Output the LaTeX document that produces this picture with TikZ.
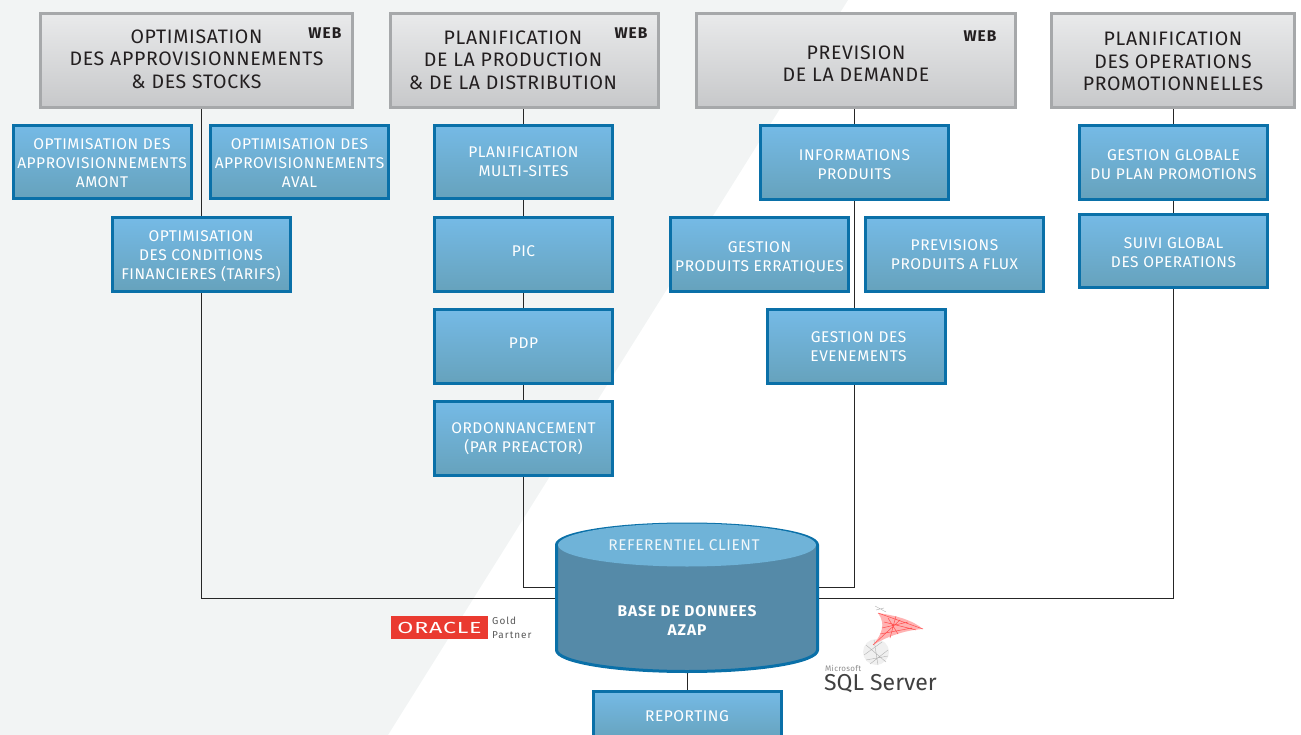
\documentclass[tikz,border=0pt]{standalone}
\usepackage{fontspec}
\setmainfont[LetterSpace=3.5]{Fira Sans}
\usetikzlibrary{backgrounds}

\definecolor{pagegrey}{HTML}{F2F4F4}
\definecolor{boxedge}{HTML}{0A70A8}
\definecolor{boxtop}{HTML}{75BAE6}
\definecolor{boxbot}{HTML}{66A2BC}
\definecolor{titleedge}{HTML}{A6A8AA}
\definecolor{titletop}{HTML}{E9EAEB}
\definecolor{titlebot}{HTML}{C7C8CA}
\definecolor{titletext}{HTML}{231F20}
\definecolor{dbbody}{HTML}{558AA8}
\definecolor{dbtop}{HTML}{6FB3D8}
\definecolor{oraclered}{HTML}{EA3A30}

% moves the lines of a box up by #1 inside its node
\newcommand{\nudge}[2]{\raisebox{0pt}[\dimexpr\height-#1\relax][\dimexpr\depth+#1\relax]{\begin{tabular}{@{}c@{}}#2\end{tabular}}}

\begin{document}
\begin{tikzpicture}[
                x=1pt,y=-1pt,
                titlebox/.style={draw=titleedge,line width=3pt,top color=titletop,bottom color=titlebot,
                    text=titletext,align=center,minimum height=94pt,minimum width=#1,
                    font=\fontsize{19.5}{22.5}\selectfont},
                bluebox/.style={draw=boxedge,line width=3pt,top color=boxtop,bottom color=boxbot,
                    text=white,align=center,minimum height=73.5pt,minimum width=#1,inner sep=0pt,
                    font=\fontsize{15.5}{19}\selectfont},
                bluebox/.default=178pt,
                webtag/.style={text=titletext,font=\fontsize{15.5}{16}\selectfont\bfseries\addfontfeature{LetterSpace=7}},
                dblabel/.style={text=white,align=center,font=\fontsize{15.5}{19}\selectfont\bfseries\addfontfeature{LetterSpace=6}},
                link/.style={draw=black!85,line width=1pt}
            ]
                \useasboundingbox (0,0) rectangle (1301,735);

                % title row
                \node [titlebox=312pt] (opti) at (196.5,60.5) {\nudge{-1pt}{OPTIMISATION\\DES APPROVISIONNEMENTS\\\& DES STOCKS}};
                \node [titlebox=268pt] (plan) at (524.5,60.5) {\nudge{-2pt}{PLANIFICATION\\DE LA PRODUCTION\\\& DE LA DISTRIBUTION}\hspace*{23pt}};
                \node [titlebox=319pt] (prev) at (856,60.5) {\nudge{-5.5pt}{PREVISION\\DE LA DEMANDE}};
                \node [titlebox=243pt] (promo) at (1173,60.5) {\nudge{-3.5pt}{PLANIFICATION\\DES OPERATIONS\\PROMOTIONNELLES}};

                \node [webtag] (webopti) at (325,33) {WEB};
                \node [webtag] (webplan) at (631,33) {WEB};
                \node [webtag] (webprev) at (980,36) {WEB};

                % first column
                \node [bluebox] (amont) at (102,162) {\nudge{-2.5pt}{OPTIMISATION DES\\APPROVISIONNEMENTS\\AMONT}};
                \node [bluebox] (aval) at (299.5,162) {\nudge{-2.5pt}{OPTIMISATION DES\\APPROVISIONNEMENTS\\AVAL}};
                \node [bluebox] (tarifs) at (201,254.5) {\nudge{-2pt}{OPTIMISATION\\DES CONDITIONS\\FINANCIERES (TARIFS)}};

                % second column
                \node [bluebox] (sites) at (523.5,162) {\nudge{-1pt}{PLANIFICATION\\MULTI-SITES}};
                \node [bluebox] (pic) at (523.5,254.5) {\nudge{2pt}{PIC}};
                \node [bluebox] (pdp) at (523.5,346.5) {\nudge{2pt}{PDP}};
                \node [bluebox] (ordo) at (523.5,438.5) {\nudge{-1pt}{ORDONNANCEMENT\\(PAR PREACTOR)}};

                % third column
                \node [bluebox=188pt] (infos) at (854.5,162.5) {\nudge{-4pt}{INFORMATIONS\\PRODUITS}};
                \node [bluebox] (errat) at (759.5,254.5) {\nudge{-4pt}{GESTION\\PRODUITS ERRATIQUES}};
                \node [bluebox] (flux) at (954.5,254.5) {\nudge{-2pt}{PREVISIONS\\PRODUITS A FLUX}};
                \node [bluebox] (even) at (856.5,346.5) {\hspace*{4pt}\nudge{-2pt}{GESTION DES\\EVENEMENTS}};

                % fourth column
                \node [bluebox=188pt] (global) at (1173.5,162.5) {\nudge{-4pt}{GESTION GLOBALE\\DU PLAN PROMOTIONS}};
                \node [bluebox=188pt] (suivi) at (1173.5,251) {\nudge{-3pt}{SUIVI GLOBAL\\DES OPERATIONS}};

                % database
                \draw [draw=boxedge,line width=3pt,fill=dbbody] (556.5,545) -- (556.5,650)
                    arc [x radius=130.5,y radius=21.5,start angle=180,end angle=0]
                    -- (817.5,545) arc [x radius=130.5,y radius=21,start angle=0,end angle=-180] -- cycle;
                \fill [dbtop] (687,545) ellipse (129 and 21.5);
                \node [minimum width=264pt,minimum height=150pt,inner sep=0pt] (db) at (687,598) {};
                \node [dblabel] (dbname) at (687,620) {BASE DE DONNEES\\AZAP};
                \node [text=white!88!dbtop,font=\fontsize{15.5}{19}\selectfont] (dbref) at (684,545) {REFERENTIEL CLIENT};
                \node [bluebox=188pt,minimum height=50pt] (report) at (687,716) {REPORTING};

                % logos
                \node [fill=oraclered,text=white,minimum width=97pt,minimum height=23pt,inner sep=0pt,
                    font=\fontsize{16}{16}\selectfont] (oracle) at (439.5,627.5) {\scalebox{1.45}[1]{ORACLE}};
                \node [text=black!65,align=left,inner sep=0pt,anchor=west,
                    font=\fontsize{10}{14}\selectfont\addfontfeature{LetterSpace=10}] (gold) at (492,627.5) {Gold\\Partner};
                \node [text=black!45,inner sep=0pt,anchor=west,font=\fontsize{8}{8}\selectfont] (micro) at (825,668) {Microsoft};
                \node [text=black!75,inner sep=0pt,anchor=west,
                    font=\fontsize{23}{24}\selectfont\addfontfeature{LetterSpace=0}] (sql) at (824,684) {SQL Server};

                \fill [black!6] (876,652) ellipse (13 and 13);
                \draw [black!30,line width=.4pt] (866,645) -- (886,662) (864,655) -- (882,642) (870,664) -- (888,650)
                    (874,640) -- (878,665) (866,660) -- (888,656) (875,606) -- (886,612) (876,610) -- (884,608);
                \fill [red!30] (878,613) .. controls (898,616) and (912,620) .. (923,629)
                    .. controls (906,630) and (888,636) .. (873,645) .. controls (882,634) and (886,624) .. cycle;
                \draw [red!70,line width=.5pt] (878,613) -- (923,629) (882,628) -- (908,622) (873,645) -- (900,620)
                    (888,618) -- (898,634) (896,616) -- (890,638) (884,622) -- (916,630) (880,634) -- (912,628);

                \begin{scope}[on background layer]
                    \fill [pagegrey] (0,0) -- (848,0) -- (388,735) -- (0,735) -- cycle;

                    \coordinate (jointa) at (555,598);
                    \coordinate (jointb) at (555,587);
                    \coordinate (jointc) at (819,587);
                    \coordinate (jointd) at (819,598);

                    \draw [link] (tarifs |- opti.south) -- (tarifs |- jointa) -- (jointa);
                    \draw [link] (plan.south -| pic) -- (pic |- jointb) -- (jointb);
                    \draw [link] (prev.south -| infos) -- (infos |- jointc) -- (jointc);
                    \draw [link] (promo.south -| global) -- (global |- jointd) -- (jointd);
                    \draw [link] (report.north |- db.south) -- (report.north);
                \end{scope}
            \end{tikzpicture}
\end{document}
